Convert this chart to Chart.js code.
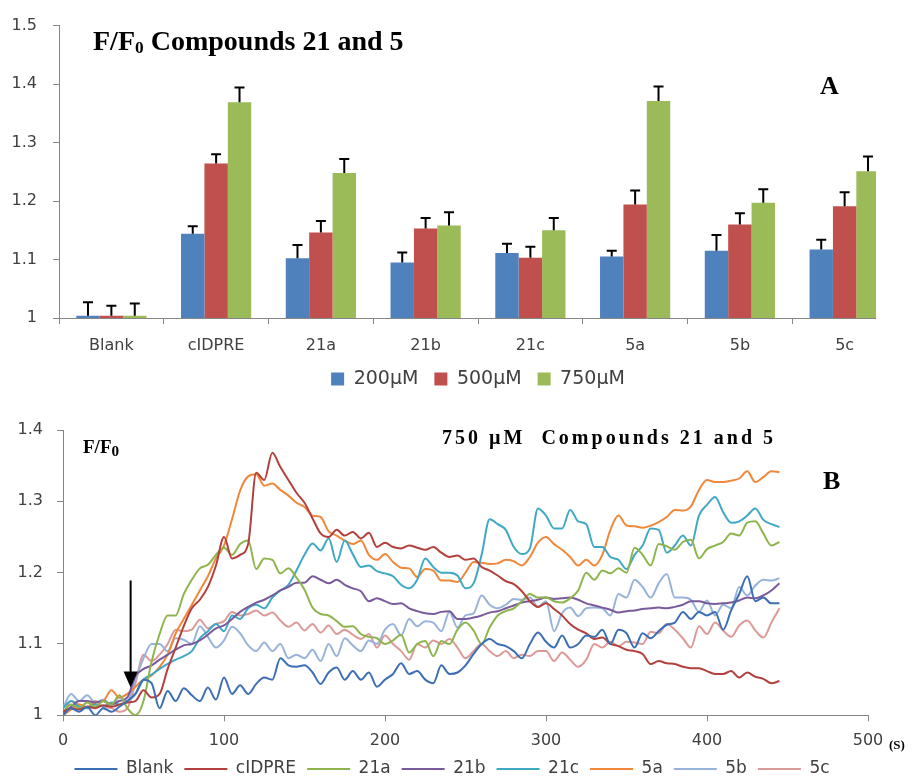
<!DOCTYPE html>
<html><head><meta charset="utf-8">
<script src="https://cdn.jsdelivr.net/npm/chart.js@4.4.1/dist/chart.umd.min.js"></script>
<style>
html,body{margin:0;padding:0;background:#fff;width:917px;height:776px;overflow:hidden;position:relative;}
#wrapA{position:absolute;left:0;top:0;width:876px;height:400px;overflow:hidden;}
#cA{position:absolute;left:0;top:0;width:917px;height:400px;}
#cB{position:absolute;left:0;top:390px;width:917px;height:400px;}
.lbl{position:absolute;font-family:"Liberation Serif","Times New Roman",serif;font-weight:bold;color:#000;white-space:pre;line-height:1;}
</style></head><body>
<div id="wrapA"><canvas id="cA" width="917" height="400"></canvas></div>
<canvas id="cB" width="917" height="400"></canvas>
<div class="lbl" style="left:93px;top:27px;font-size:28px">F/F<span style="font-size:0.62em;vertical-align:-0.15em">0</span> Compounds 21 and 5</div>
<div class="lbl" style="left:820px;top:73px;font-size:26px">A</div>
<div class="lbl" style="left:83px;top:437px;font-size:19px">F/F<span style="font-size:0.8em;vertical-align:-0.2em">0</span></div>
<div class="lbl" style="left:442px;top:427px;font-size:20px;letter-spacing:3px">750 µM  Compounds 21 and 5</div>
<div class="lbl" style="left:823px;top:468px;font-size:26px">B</div>
<div class="lbl" style="left:889px;top:738px;font-size:13px">(S)</div>
<script>
// ---------- Panel A data ----------
const categories = ['Blank','cIDPRE','21a','21b','21c','5a','5b','5c'];
const concLabels = ['200µM','500µM','750µM'];
const mean200 = [1.004,1.144,1.102,1.095,1.111,1.105,1.115,1.117];
const mean500 = [1.004,1.264,1.146,1.153,1.103,1.194,1.160,1.191];
const mean750 = [1.004,1.369,1.248,1.158,1.150,1.371,1.197,1.251];
const err200 = [0.023,0.013,0.023,0.017,0.016,0.010,0.027,0.017];
const err500 = [0.017,0.016,0.020,0.018,0.019,0.024,0.019,0.024];
const err750 = [0.021,0.025,0.024,0.023,0.021,0.025,0.023,0.025];

// ---------- Panel B data ----------
const timeSec = [0,5,10,15,20,25,30,35,40,45,50,55,60,65,70,75,80,85,90,95,100,105,110,115,120,125,130,135,140,145,150,155,160,165,170,175,180,185,190,195,200,205,210,215,220,225,230,235,240,245,250,255,260,265,270,275,280,285,290,295,300,305,310,315,320,325,330,335,340,345,350,355,360,365,370,375,380,385,390,395,400,405,410,415,420,425,430,435,440,445];
const seriesNames = ['Blank','cIDPRE','21a','21b','21c','5a','5b','5c'];
const blank = [1.0,1.01,1.005,1.012,1.0,1.01,1.005,1.012,1.02,1.03,
1.05,1.045,1.01,1.034,1.02,1.038,1.028,1.02,1.039,1.022,
1.053,1.03,1.042,1.03,1.044,1.053,1.05,1.08,1.07,1.068,
1.07,1.06,1.044,1.06,1.067,1.05,1.062,1.05,1.06,1.04,
1.05,1.058,1.073,1.058,1.062,1.05,1.045,1.07,1.058,1.06,
1.07,1.086,1.1,1.107,1.1,1.097,1.09,1.08,1.1,1.116,
1.103,1.095,1.112,1.095,1.1,1.112,1.11,1.12,1.1,1.12,
1.115,1.095,1.115,1.108,1.118,1.127,1.13,1.145,1.135,1.145,
1.14,1.145,1.12,1.147,1.17,1.195,1.16,1.165,1.157,1.157];
const cidpre = [1.005,1.01,1.008,1.012,1.01,1.014,1.012,1.015,1.018,1.02,
1.035,1.025,1.03,1.065,1.095,1.125,1.15,1.162,1.18,1.21,
1.25,1.22,1.225,1.24,1.34,1.33,1.368,1.348,1.33,1.312,
1.298,1.276,1.255,1.25,1.26,1.252,1.257,1.248,1.256,1.236,
1.242,1.236,1.234,1.238,1.235,1.232,1.236,1.228,1.222,1.224,
1.218,1.22,1.208,1.203,1.196,1.188,1.184,1.174,1.16,1.152,
1.157,1.149,1.14,1.128,1.12,1.115,1.107,1.109,1.10,1.097,
1.092,1.09,1.086,1.072,1.076,1.073,1.072,1.068,1.066,1.066,
1.062,1.058,1.058,1.062,1.053,1.06,1.054,1.051,1.045,1.048];
const c21a = [1.005,1.015,1.01,1.018,1.012,1.02,1.015,1.028,1.01,1.0,
1.02,1.075,1.114,1.14,1.14,1.17,1.19,1.206,1.211,1.225,
1.235,1.225,1.24,1.245,1.205,1.22,1.218,1.199,1.206,1.193,
1.176,1.151,1.142,1.14,1.132,1.124,1.125,1.114,1.11,1.108,
1.1,1.105,1.113,1.088,1.1,1.104,1.083,1.104,1.1,1.12,
1.13,1.119,1.1,1.123,1.14,1.146,1.15,1.16,1.17,1.165,
1.165,1.16,1.158,1.164,1.175,1.2,1.19,1.203,1.199,1.206,
1.2,1.235,1.225,1.21,1.24,1.237,1.232,1.243,1.246,1.22,
1.233,1.238,1.243,1.255,1.252,1.27,1.272,1.255,1.238,1.243];
const c21b = [1.002,1.012,1.02,1.02,1.018,1.02,1.015,1.02,1.025,1.055,
1.065,1.07,1.078,1.085,1.092,1.098,1.1,1.105,1.113,1.122,
1.126,1.135,1.145,1.152,1.158,1.162,1.168,1.175,1.18,1.186,
1.186,1.195,1.19,1.185,1.19,1.183,1.178,1.174,1.16,1.164,
1.16,1.156,1.157,1.15,1.146,1.143,1.142,1.145,1.146,1.135,
1.135,1.137,1.14,1.144,1.146,1.15,1.154,1.158,1.16,1.162,
1.165,1.163,1.164,1.165,1.162,1.157,1.154,1.151,1.148,1.144,
1.146,1.147,1.149,1.15,1.151,1.15,1.152,1.155,1.16,1.16,
1.157,1.156,1.157,1.158,1.161,1.165,1.164,1.168,1.175,1.185];
const c21c = [1.01,1.02,1.012,1.01,1.015,1.012,1.018,1.015,1.02,1.03,
1.05,1.057,1.065,1.072,1.078,1.083,1.09,1.108,1.118,1.128,
1.118,1.14,1.135,1.15,1.155,1.15,1.165,1.175,1.183,1.203,
1.225,1.241,1.231,1.248,1.215,1.245,1.226,1.208,1.21,1.202,
1.199,1.195,1.183,1.178,1.19,1.22,1.208,1.2,1.2,1.196,
1.178,1.185,1.225,1.275,1.268,1.26,1.236,1.226,1.234,1.29,
1.28,1.262,1.262,1.288,1.272,1.268,1.236,1.236,1.222,1.218,
1.205,1.225,1.238,1.262,1.26,1.228,1.238,1.252,1.238,1.28,
1.295,1.306,1.285,1.27,1.272,1.28,1.29,1.274,1.268,1.264];
const c5a = [1.0,1.008,1.015,1.012,1.018,1.02,1.035,1.025,1.03,1.04,
1.05,1.056,1.068,1.085,1.115,1.135,1.155,1.175,1.195,1.22,
1.238,1.275,1.315,1.335,1.338,1.322,1.325,1.316,1.308,1.298,
1.292,1.28,1.278,1.258,1.252,1.245,1.24,1.245,1.225,1.218,
1.226,1.215,1.207,1.206,1.194,1.205,1.203,1.189,1.189,1.187,
1.2,1.215,1.214,1.212,1.213,1.218,1.216,1.21,1.222,1.242,
1.25,1.24,1.232,1.222,1.21,1.218,1.21,1.225,1.26,1.28,
1.266,1.265,1.263,1.266,1.271,1.278,1.288,1.287,1.293,1.316,
1.33,1.327,1.327,1.329,1.332,1.342,1.327,1.334,1.342,1.341];
const c5b = [1.01,1.03,1.02,1.028,1.018,1.022,1.015,1.025,1.02,1.05,
1.08,1.1,1.1,1.09,1.108,1.106,1.1,1.125,1.11,1.095,
1.105,1.124,1.115,1.098,1.09,1.102,1.09,1.1,1.08,1.085,
1.08,1.092,1.076,1.1,1.083,1.108,1.098,1.09,1.105,1.1,
1.12,1.128,1.112,1.135,1.125,1.132,1.13,1.118,1.145,1.123,
1.14,1.143,1.168,1.155,1.15,1.155,1.163,1.162,1.165,1.152,
1.16,1.118,1.143,1.151,1.139,1.15,1.151,1.15,1.14,1.17,
1.165,1.19,1.18,1.165,1.185,1.198,1.165,1.165,1.162,1.145,
1.161,1.14,1.155,1.15,1.18,1.168,1.182,1.19,1.189,1.192];
const c5c = [1.0,1.02,1.015,1.01,1.02,1.012,1.01,1.005,1.01,1.045,
1.085,1.076,1.085,1.1,1.12,1.118,1.12,1.134,1.122,1.128,
1.132,1.145,1.14,1.142,1.147,1.14,1.144,1.133,1.124,1.13,
1.119,1.128,1.116,1.126,1.114,1.12,1.113,1.107,1.114,1.095,
1.112,1.1,1.09,1.078,1.1,1.095,1.105,1.1,1.107,1.095,
1.08,1.09,1.1,1.09,1.083,1.09,1.08,1.085,1.083,1.09,
1.09,1.076,1.088,1.078,1.068,1.078,1.1,1.095,1.103,1.097,
1.103,1.102,1.1,1.117,1.115,1.128,1.12,1.108,1.095,1.125,
1.114,1.13,1.119,1.11,1.126,1.133,1.119,1.109,1.13,1.15];
const arrowTime = 42;
const arrowFrom = 1.189;
const arrowTo = 1.039;

// ---------- styling ----------
const tickFont = {family:'"DejaVu Sans", sans-serif', size:16};
const legendFontA = {family:'"DejaVu Sans", sans-serif', size:19};
const legendFontB = {family:'"DejaVu Sans", sans-serif', size:17};
const txtColor = '#404040';
const axisColor = '#868686';
const barColors = ['#4F81BD','#C0504D','#9BBB59'];
const lineColors = ['#3C6EB4','#B2403C','#8EB44E','#7A5A9C','#3FA8C4','#F0883C','#97B3DA','#DB9A98'];
const fmtTick = v => String(Math.round(v * 10) / 10);

const means = [mean200, mean500, mean750];
const errs = [err200, err500, err750];

const errorBarPlugin = {
  id:'errorBarPlugin',
  afterDatasetsDraw(chart){
    const ctx = chart.ctx, ys = chart.scales.y;
    chart.data.datasets.forEach((ds, di) => {
      const meta = chart.getDatasetMeta(di);
      meta.data.forEach((bar, i) => {
        const top = ys.getPixelForValue(means[di][i] + errs[di][i]);
        ctx.save();
        ctx.strokeStyle = '#000'; ctx.lineWidth = 2;
        ctx.beginPath();
        ctx.moveTo(bar.x, bar.y); ctx.lineTo(bar.x, top);
        ctx.moveTo(bar.x - 5, top); ctx.lineTo(bar.x + 5, top);
        ctx.stroke();
        ctx.restore();
      });
    });
  }
};

new Chart(document.getElementById('cA'), {
  type:'bar',
  data:{
    labels: categories,
    datasets: concLabels.map((lab, k) => ({
      label: lab, data: means[k], backgroundColor: barColors[k], borderWidth: 0,
      categoryPercentage: 0.67, barPercentage: 1.0
    }))
  },
  options:{
    responsive:false, animation:false,
    layout:{padding:{left:0,right:20,top:25,bottom:1.5}},
    plugins:{
      legend:{position:'bottom', fullSize:false, labels:{font:legendFontA, color:txtColor, boxWidth:13, boxHeight:13, padding:16}},
      tooltip:{enabled:false}
    },
    scales:{
      x:{
        grid:{display:true, drawOnChartArea:false, drawTicks:true, tickLength:6, color:axisColor, offset:true},
        border:{display:true, color:axisColor, width:1},
        ticks:{font:tickFont, color:txtColor, padding:12, maxRotation:0},
        afterFit(s){ s.height = 35.5; }
      },
      y:{
        min:1, max:1.5,
        grid:{display:true, drawOnChartArea:false, drawTicks:true, tickLength:6, color:axisColor},
        border:{display:true, color:axisColor, width:1},
        ticks:{font:tickFont, color:txtColor, stepSize:0.1, padding:16, callback:fmtTick},
        afterFit(s){ s.width = 59; }
      }
    }
  },
  plugins:[errorBarPlugin]
});

const arrowPlugin = {
  id:'arrowPlugin',
  afterDatasetsDraw(chart){
    const ctx = chart.ctx, xs = chart.scales.x, ys = chart.scales.y;
    const x = xs.getPixelForValue(arrowTime);
    const y0 = ys.getPixelForValue(arrowFrom);
    const y1 = ys.getPixelForValue(arrowTo);
    ctx.save();
    ctx.strokeStyle = '#000'; ctx.fillStyle = '#000'; ctx.lineWidth = 2;
    ctx.beginPath(); ctx.moveTo(x, y0); ctx.lineTo(x, y1 - 12); ctx.stroke();
    ctx.beginPath(); ctx.moveTo(x - 7, y1 - 16); ctx.lineTo(x + 7, y1 - 16); ctx.lineTo(x, y1); ctx.closePath(); ctx.fill();
    ctx.restore();
  }
};

const lineSeries = [blank, cidpre, c21a, c21b, c21c, c5a, c5b, c5c];
new Chart(document.getElementById('cB'), {
  type:'line',
  data:{
    datasets: seriesNames.map((name, k) => ({
      label: name,
      data: timeSec.map((t, i) => ({x:t, y:lineSeries[k][i]})),
      borderColor: lineColors[k], backgroundColor: lineColors[k],
      borderWidth: 2, pointRadius: 0, cubicInterpolationMode: 'monotone', fill:false
    }))
  },
  options:{
    responsive:false, animation:false,
    layout:{padding:{left:0,right:13,top:40,bottom:2.5}},
    plugins:{
      legend:{position:'bottom', labels:{font:legendFontB, color:txtColor, usePointStyle:true, pointStyle:'line', pointStyleWidth:43, padding:11}},
      tooltip:{enabled:false}
    },
    scales:{
      x:{
        type:'linear', min:0, max:500,
        grid:{display:true, drawOnChartArea:false, drawTicks:true, tickLength:6, color:axisColor},
        border:{display:true, color:axisColor, width:1},
        ticks:{font:tickFont, color:txtColor, stepSize:100, padding:10, maxRotation:0},
        afterFit(s){ s.height = 34.2; }
      },
      y:{
        min:1, max:1.4,
        grid:{display:true, drawOnChartArea:false, drawTicks:true, tickLength:6, color:axisColor},
        border:{display:true, color:axisColor, width:1},
        ticks:{font:tickFont, color:txtColor, stepSize:0.1, padding:14, callback:fmtTick},
        afterFit(s){ s.width = 63; }
      },
      y2:{
        position:'right', display:true,
        grid:{display:false}, border:{display:false}, ticks:{display:false},
        afterFit(s){ s.width = 36; }
      }
    }
  },
  plugins:[arrowPlugin]
});
</script>
</body></html>
